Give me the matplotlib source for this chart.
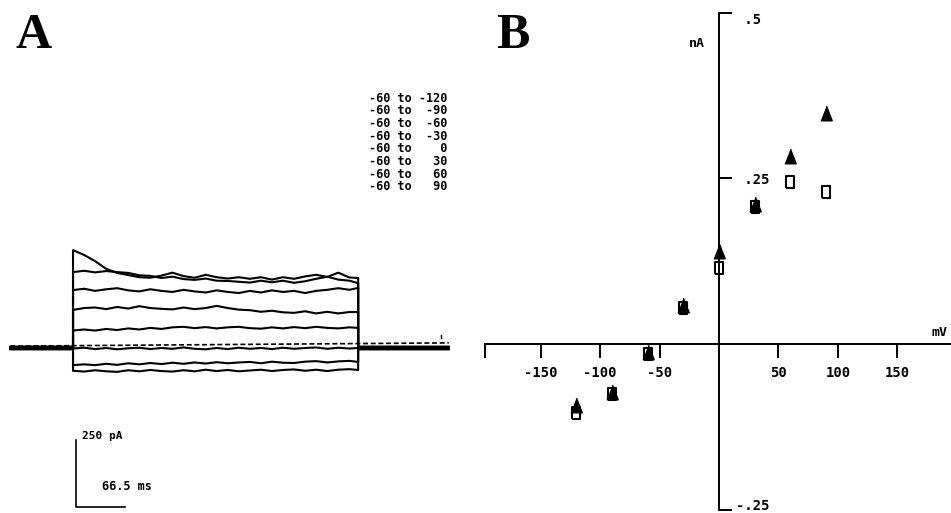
import matplotlib
matplotlib.use('Agg')
import matplotlib.pyplot as plt

plt.rcParams['axes.unicode_minus'] = False

# Donnees panneau A : courants (pA) pendant les sauts depuis -60 mV
testPotentials = [-120, -90, -60, -30, 0, 30, 60, 90]
tStep = [0, 15, 30, 45, 60, 75, 90, 105, 120, 135, 150, 165, 180, 195,
         210, 225, 240, 255, 270, 285, 300, 315, 330, 345, 360, 375, 387]
tPre = [-85, 0]
tPost = [387, 510]
holding = [-5, 4, -1, 3, -3, 1, 5, -4]

traceM120 = [-85, -88, -83, -87, -89, -83, -87, -82, -86, -88, -83, -87, -81, -86,
             -82, -87, -84, -81, -86, -82, -80, -85, -81, -86, -81, -79, -82]
traceM90 = [-64, -61, -64, -59, -63, -57, -61, -56, -60, -55, -59, -54, -58, -53,
            -57, -54, -52, -57, -51, -55, -56, -51, -49, -54, -50, -48, -52]
traceM60 = [-2, 1, -4, 0, -5, -1, 1, -4, 0, -3, 2, -3, -5, 0,
            -4, 1, -3, 0, -4, 1, -3, 0, 2, -3, 1, -2, 0]
traceM30 = [65, 69, 65, 71, 67, 73, 69, 75, 71, 77, 79, 74, 78, 73,
            77, 79, 74, 72, 77, 73, 78, 74, 79, 75, 73, 77, 75]
trace0 = [142, 149, 151, 145, 153, 147, 156, 149, 146, 144, 151, 145, 149, 157,
          149, 143, 141, 135, 139, 133, 131, 137, 129, 135, 129, 134, 134]
trace30 = [216, 221, 213, 219, 223, 215, 211, 219, 213, 209, 217, 211, 207, 215,
           209, 205, 213, 207, 215, 209, 213, 205, 213, 217, 223, 217, 224]
trace60 = [283, 288, 282, 287, 283, 280, 271, 269, 261, 266, 257, 254, 259, 251,
           250, 247, 244, 251, 245, 251, 243, 249, 258, 266, 255, 251, 242]
trace90 = [365, 347, 324, 295, 280, 272, 264, 262, 270, 281, 268, 262, 273, 264,
           259, 264, 258, 264, 255, 264, 258, 267, 273, 265, 281, 263, 261]
traces = [traceM120, traceM90, traceM60, traceM30, trace0, trace30, trace60, trace90]

dashT = [-85, 510]
dashI = [7, 19]

# Donnees panneau B : courbe I-V
voltages = [-120, -90, -60, -30, 0, 30, 60, 90]
peakI = [-0.092, -0.072, -0.012, 0.059, 0.140, 0.212, 0.284, 0.349]
steadyI = [-0.104, -0.075, -0.015, 0.055, 0.115, 0.207, 0.244, 0.229]

W, H = 951, 513
fig = plt.figure(figsize=(W / 100, H / 100), dpi=100)
mono = 'DejaVu Sans Mono'

# ---- panneau A ----
axA = fig.add_axes([0, 0, 460 / W, 453 / H])
axA.set_xlim(-99.1, 525.2)
axA.set_ylim(-615.5, 1074.2)
axA.axis('off')

for h, tr in zip(holding, traces):
    t = tPre + tStep + tPost
    i = [h, h] + tr + [h, h]
    axA.plot(t, i, color='black', lw=1.5, solid_joinstyle='round')
axA.plot(dashT, dashI, color='black', lw=1.2, dashes=(3, 1.6))
axA.plot([500, 500], [38, 48], color='black', lw=1)  # petite marque a droite

# barre d'echelle 250 pA / 66.5 ms
axA.plot([4, 4, 4 + 66.5], [-343, -593, -593], color='black', lw=1.2)
axA.text(12, -330, '250 pA', family=mono, fontweight='bold', fontsize=8,
         va='center', ha='left')
axA.text(40, -515, '66.5 ms', family=mono, fontweight='bold', fontsize=8.5,
         va='center', ha='left')

for k, v in enumerate(testPotentials):
    fig.text(447 / W, 1 - (98 + 12.7 * k) / H, '%d to %4d' % (-60, v),
             family=mono, fontweight='bold', fontsize=8.5, ha='right', va='center')

# ---- panneau B ----
axB = fig.add_axes([460 / W, 0, 491 / W, 1])
axB.set_xlim(-217.65, 194.96)
axB.set_ylim(-0.255, 0.5191)
axB.patch.set_visible(False)
for s in ['left', 'top']:
    axB.spines[s].set_visible(False)
axB.spines['right'].set_position(('data', 0))
axB.spines['right'].set_bounds(-0.25, 0.5)
axB.spines['bottom'].set_position(('data', 0))
axB.spines['bottom'].set_bounds(-197, 195)
for s in ['right', 'bottom']:
    axB.spines[s].set_linewidth(1.4)

axB.yaxis.set_ticks_position('right')
axB.set_yticks([-0.25, 0.25, 0.5])
axB.set_yticklabels(['-.25', ' .25', ' .5'])
axB.tick_params(axis='y', direction='out', length=9, width=1.4, pad=3)
axB.set_xticks([-150, -100, -50, 50, 100, 150])
axB.set_xticks([-197], minor=True)
axB.tick_params(axis='x', which='both', direction='out', length=10, width=1.4, pad=6)
for lab in axB.get_xticklabels() + axB.get_yticklabels():
    lab.set_family(mono)
    lab.set_fontweight('bold')
    lab.set_fontsize(10)
ylabs = axB.get_yticklabels()
ylabs[0].set_va('baseline')  # -.25 au-dessus du bord
ylabs[2].set_va('top')

axB.text(-18.5, 0.454, 'nA', family=mono, fontweight='bold', fontsize=9.5,
         ha='center', va='center')
axB.text(185.7, 0.017, 'mV', family=mono, fontweight='bold', fontsize=9.5,
         ha='center', va='center')

# marqueurs : triangle plein, carre ouvert un peu haut
triMarker = [(-0.78, -1), (0.78, -1), (0, 1)]
sqMarker = [(-0.75, -1), (0.75, -1), (0.75, 1), (-0.75, 1), (-0.75, -1)]
axB.plot(voltages, steadyI, linestyle='none', marker=sqMarker, markersize=8,
         markerfacecolor='none', markeredgecolor='black', markeredgewidth=1.5,
         clip_on=False)
axB.plot(voltages, peakI, linestyle='none', marker=triMarker, markersize=10.5,
         color='black', clip_on=False)

# lettres des panneaux
fig.text(15 / W, 1 - 48 / H, 'A', family='Liberation Serif', fontweight='bold',
         fontsize=36, va='baseline', ha='left')
fig.text(496 / W, 1 - 48 / H, 'B', family='Liberation Serif', fontweight='bold',
         fontsize=36, va='baseline', ha='left')

fig.savefig('out.png', dpi=100)
